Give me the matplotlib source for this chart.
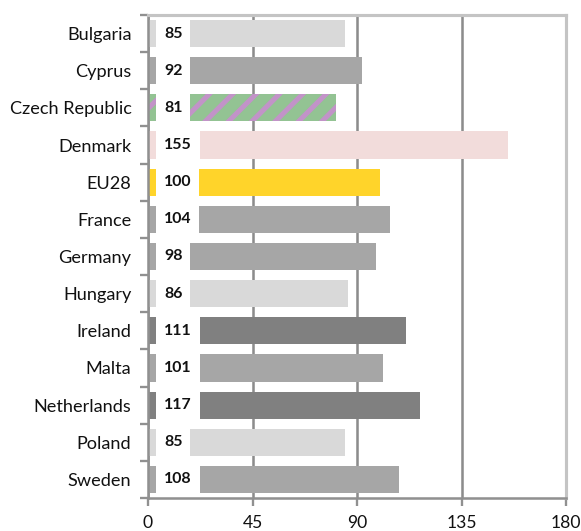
import numpy as np
import matplotlib.pyplot as plt
from matplotlib.ticker import NullFormatter

# Índice por país (EU28 = 100)
countries = ['Bulgaria', 'Cyprus', 'Czech Republic', 'Denmark', 'EU28', 'France',
             'Germany', 'Hungary', 'Ireland', 'Malta', 'Netherlands', 'Poland', 'Sweden']
values = [85, 92, 81, 155, 100, 104, 98, 86, 111, 101, 117, 85, 108]
colors = ['#d9d9d9', '#a6a6a6', '#93c393', '#f2dcdb', '#ffd42a', '#a6a6a6',
          '#a6a6a6', '#d9d9d9', '#808080', '#a6a6a6', '#808080', '#d9d9d9', '#a6a6a6']
hatched = 'Czech Republic'

DPI = 140
plt.rcParams['font.family'] = ['Lato', 'DejaVu Sans']
plt.rcParams['hatch.linewidth'] = 2.6

fig = plt.figure(figsize=(581 / DPI, 531 / DPI), dpi=DPI)
ax = fig.add_axes([148 / 581, 1 - 498 / 531, (566 - 148) / 581, (498 - 15) / 531])

y = np.arange(len(countries))
for yi, name, v, c in zip(y, countries, values, colors):
    if name == hatched:
        ax.barh(yi, v, height=0.73, color=c, hatch='//', edgecolor='#c293c8',
                linewidth=0, zorder=2)
    else:
        ax.barh(yi, v, height=0.73, color=c, linewidth=0, zorder=2)
    # rótulo com fundo branco sobre o início da barra
    ax.text(6.9, yi, str(v), ha='left', va='center', fontsize=8.2, fontweight='bold',
            color='#111111', zorder=3,
            bbox=dict(boxstyle='square,pad=0.5', fc='white', ec='none'))

ax.set_xlim(0, 180)
ax.set_ylim(len(countries) - 0.5, -0.5)
ax.set_xticks([0, 45, 90, 135, 180])
ax.tick_params(axis='x', direction='out', length=4, width=1.2, color='#909090',
               labelsize=9, labelcolor='#111111', pad=5)

# marcas nos limites das categorias, nomes no centro
ax.set_yticks(np.arange(-0.5, len(countries), 1.0))
ax.yaxis.set_major_formatter(NullFormatter())
ax.set_yticks(y, minor=True)
ax.set_yticklabels(countries, minor=True)
ax.tick_params(axis='y', which='major', direction='out', length=4, width=1.2, color='#909090')
ax.tick_params(axis='y', which='minor', length=0, labelsize=9.3, labelcolor='#111111', pad=8.5)

ax.grid(axis='x', color='#8c8c8c', linewidth=1.3, zorder=1)
ax.set_axisbelow(True)
for side in ['left', 'bottom']:
    ax.spines[side].set_color('#909090')
    ax.spines[side].set_linewidth(1.3)
for side in ['top', 'right']:
    ax.spines[side].set_color('#c4c4c4')
    ax.spines[side].set_linewidth(1.6)

fig.savefig('out.png', dpi=DPI)
